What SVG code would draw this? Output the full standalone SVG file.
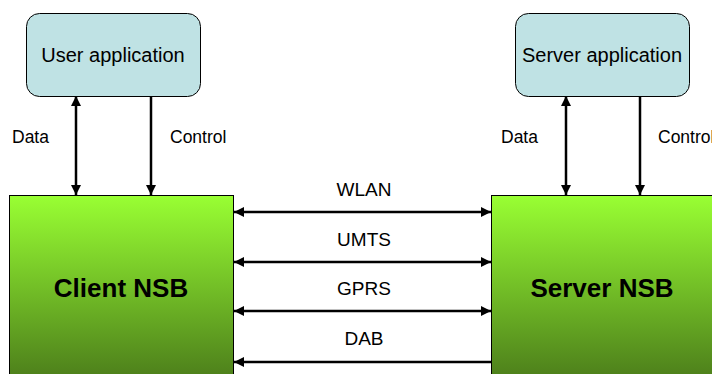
<svg xmlns="http://www.w3.org/2000/svg" width="712" height="374" viewBox="0 0 712 374">
<defs>
<linearGradient id="g" x1="0" y1="0" x2="0" y2="1">
<stop offset="0" stop-color="#99FF33"/>
<stop offset="1" stop-color="#4A7A1A"/>
</linearGradient>
<marker id="ah" viewBox="0 0 10 10" refX="10" refY="5" markerWidth="10" markerHeight="10" markerUnits="userSpaceOnUse" orient="auto-start-reverse">
<path d="M0,0 L10,5 L0,10 z" fill="#000"/>
</marker>
<style>
.app{fill:#BFE2E4;stroke:#000;stroke-width:1}
.nsb{fill:url(#g);stroke:#000;stroke-width:1}
.t{font-family:"Liberation Sans",Arial,sans-serif;fill:#000}
.lbl{font-size:17.5px}
.net{font-size:19px}
.ln{stroke:#000;stroke-width:2.5;fill:none}
</style>
</defs>
<g id="user-app">
<rect class="app" x="26.5" y="13.5" width="174" height="83" rx="13"/>
<text class="t" x="113" y="62" font-size="20" text-anchor="middle">User application</text>
</g>
<g id="server-app">
<rect class="app" x="515.5" y="13.5" width="174" height="83" rx="13"/>
<text class="t" x="602" y="62" font-size="20" text-anchor="middle">Server application</text>
</g>
<g id="client-nsb">
<rect class="nsb" x="9.5" y="195.5" width="224" height="190"/>
<text class="t" x="121" y="297" font-size="26" font-weight="bold" text-anchor="middle">Client NSB</text>
</g>
<g id="server-nsb">
<rect class="nsb" x="491.5" y="195.5" width="240" height="190"/>
<text class="t" x="602" y="297" font-size="26" font-weight="bold" text-anchor="middle">Server NSB</text>
</g>
<g id="connectors">
<line class="ln" x1="76" y1="96" x2="76" y2="195" marker-start="url(#ah)" marker-end="url(#ah)"/>
<line class="ln" x1="151" y1="96" x2="151" y2="195" marker-end="url(#ah)"/>
<line class="ln" x1="566" y1="96" x2="566" y2="195" marker-start="url(#ah)" marker-end="url(#ah)"/>
<line class="ln" x1="640" y1="96" x2="640" y2="195" marker-end="url(#ah)"/>
<line class="ln" x1="234" y1="212" x2="491" y2="212" marker-start="url(#ah)" marker-end="url(#ah)"/>
<line class="ln" x1="234" y1="262" x2="491" y2="262" marker-start="url(#ah)" marker-end="url(#ah)"/>
<line class="ln" x1="234" y1="311" x2="491" y2="311" marker-start="url(#ah)" marker-end="url(#ah)"/>
<line class="ln" x1="491" y1="362" x2="234" y2="362" marker-end="url(#ah)"/>
</g>
<g id="labels">
<text class="t lbl" x="12" y="143">Data</text>
<text class="t lbl" x="170" y="143">Control</text>
<text class="t lbl" x="501" y="143">Data</text>
<text class="t lbl" x="658" y="143">Control</text>
<text class="t net" x="364" y="196" text-anchor="middle">WLAN</text>
<text class="t net" x="364" y="246" text-anchor="middle">UMTS</text>
<text class="t net" x="364" y="295" text-anchor="middle">GPRS</text>
<text class="t net" x="364" y="345" text-anchor="middle">DAB</text>
</g>
</svg>
